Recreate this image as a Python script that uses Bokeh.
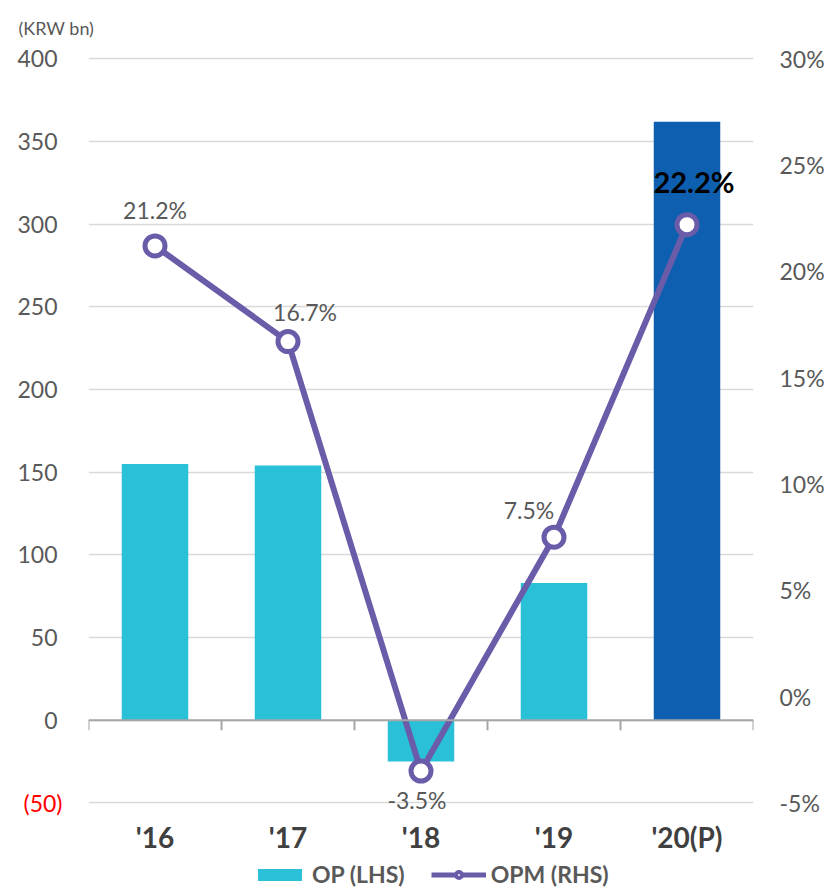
from bokeh.plotting import figure
from bokeh.layouts import column
from bokeh.models import (Range1d, LinearAxis, FixedTicker, Span, Legend, LegendItem,
                          ColumnDataSource, LabelSet, Title)
from bokeh.core.properties import value
from bokeh.embed import file_html
from bokeh.resources import INLINE

# ---- data ----
categories = ["'16", "'17", "'18", "'19", "'20(P)"]
op = [155, 154, -25, 83, 362]            # KRW bn (LHS)
opm = [21.2, 16.7, -3.5, 7.5, 22.2]      # % (RHS)
opm_labels = ["21.2%", "16.7%", "-3.5%", "7.5%", "22.2%"]
left_ticks = [-50, 0, 50, 100, 150, 200, 250, 300, 350, 400]
right_ticks = [-5, 0, 5, 10, 15, 20, 25, 30]

# ---- style ----
FONT = "Lato"
GRAY = "#595959"
CYAN = "#29C0D8"
BLUE = "#0F5FB1"
PURPLE = "#6A5CA8"
label_dx = [0, 17, -4, -25, 7]
label_dy = [36, 30, -29, 27, 43]

n = len(categories)
xc = [i + 0.5 for i in range(n)]

# y ranges: -50..400 spans 744 px; frame padded slightly beyond the tick range
Y0, Y1 = -50, 400
P0, P1 = -5, 30
k = 744 / (Y1 - Y0)
pad_lo, pad_hi = 10, 2
y_lo, y_hi = Y0 - pad_lo, Y1 + pad_hi
r = (P1 - P0) / (Y1 - Y0)
p_lo, p_hi = P0 - pad_lo * r, P1 + pad_hi * r
frame_h = round(k * (y_hi - y_lo))
top_b = round(58 - pad_hi * k)
bot_b = 38

p = figure(width=836, height=top_b + frame_h + bot_b, x_range=Range1d(0, n),
           y_range=Range1d(y_lo, y_hi), output_backend="svg", toolbar_location=None,
           min_border_top=top_b, min_border_left=88, min_border_right=83,
           min_border_bottom=bot_b)
p.outline_line_color = None
p.extra_y_ranges = {"pct": Range1d(p_lo, p_hi)}

# unit label
p.title = Title(text="(KRW bn)", align="left", offset=-70, text_font=FONT,
                text_font_size="18px", text_font_style="normal", text_color=GRAY,
                vertical_align="top", standoff=30)

# grid
p.xgrid.grid_line_color = None
p.ygrid.ticker = FixedTicker(ticks=left_ticks)
p.ygrid.grid_line_color = "#d9d9d9"
p.ygrid.grid_line_width = 1.5


def style_axis(ax, size, color, standoff):
    ax.axis_line_color = None
    ax.major_tick_line_color = None
    ax.minor_tick_line_color = None
    ax.major_tick_out = 0
    ax.major_tick_in = 0
    ax.major_label_standoff = standoff
    ax.major_label_text_font = FONT
    ax.major_label_text_font_size = size
    ax.major_label_text_color = color


# left axis
ya = p.yaxis[0]
ya.ticker = FixedTicker(ticks=left_ticks)
ya.major_label_overrides = {-50: ""}
style_axis(ya, "23px", GRAY, 31)

# red "(50)" on a second left axis
ya2 = LinearAxis(ticker=FixedTicker(ticks=[-50]))
ya2.major_label_overrides = {-50: "(50)"}
style_axis(ya2, "23px", "red", -48)
p.add_layout(ya2, "left")

# right axis
ra = LinearAxis(y_range_name="pct", ticker=FixedTicker(ticks=right_ticks))
ra.major_label_overrides = {t: f"{t}%" for t in right_ticks}
style_axis(ra, "23px", GRAY, 26)
p.add_layout(ra, "right")

# bottom axis (category labels)
xa = p.xaxis[0]
xa.ticker = FixedTicker(ticks=xc)
xa.major_label_overrides = {x: c for x, c in zip(xc, categories)}
style_axis(xa, "28px", "#404040", 0)
xa.major_label_text_font_style = "bold"

# bars
p.vbar(x=xc[:-1], top=op[:-1], bottom=0, width=0.5, fill_color=CYAN, line_color=None)
p.vbar(x=xc[-1:], top=op[-1:], bottom=0, width=0.5, fill_color=BLUE, line_color=None)

# zero line with category ticks
p.add_layout(Span(location=0, dimension="width", line_color="#a6a6a6", line_width=2))
tick_len = 10 / k
p.segment(x0=list(range(n + 1)), x1=list(range(n + 1)), y0=[0] * (n + 1),
          y1=[-tick_len] * (n + 1), line_color="#a6a6a6", line_width=2)

# OPM line
p.line(xc, opm, y_range_name="pct", line_color=PURPLE, line_width=6)
p.scatter(xc, opm, y_range_name="pct", size=20, fill_color="white",
          line_color=PURPLE, line_width=5)

# data labels
src = ColumnDataSource(dict(x=xc[:-1], y=opm[:-1], t=opm_labels[:-1],
                            dx=label_dx[:-1], dy=label_dy[:-1]))
p.add_layout(LabelSet(x="x", y="y", text="t", x_offset="dx", y_offset="dy", source=src,
                      y_range_name="pct", text_align="center", text_baseline="middle",
                      text_font=value(FONT), text_font_size=value("23px"), text_color=GRAY))
src2 = ColumnDataSource(dict(x=xc[-1:], y=opm[-1:], t=opm_labels[-1:],
                             dx=label_dx[-1:], dy=label_dy[-1:]))
p.add_layout(LabelSet(x="x", y="y", text="t", x_offset="dx", y_offset="dy", source=src2,
                      y_range_name="pct", text_align="center", text_baseline="middle",
                      text_font=value(FONT), text_font_size=value("29px"),
                      text_font_style="bold", text_color="black"))

# legend strip (separate figure below the chart; its frame aligns with the chart's)
lg = figure(width=836, height=890 - p.height, x_range=Range1d(0, 1), y_range=Range1d(0, 1),
            output_backend="svg", toolbar_location=None, min_border=0)
lg.axis.visible = False
lg.grid.grid_line_color = None
lg.outline_line_color = None
hidden = ColumnDataSource(dict(x=[-10], y=[-10], top=[-10]))
r_bar = lg.vbar(x="x", top="top", width=0.1, source=hidden, fill_color=CYAN, line_color=None)
r_line = lg.line(x="x", y="y", source=hidden, line_color=PURPLE, line_width=5)
r_pt = lg.scatter(x="x", y="y", source=hidden, size=14, fill_color="white",
                  line_color=PURPLE, line_width=4)
legend = Legend(items=[LegendItem(label="OP (LHS)", renderers=[r_bar]),
                       LegendItem(label="OPM (RHS)", renderers=[r_line, r_pt])],
                orientation="horizontal", location=(164, 2),
                border_line_color=None, background_fill_alpha=0,
                label_text_font=FONT, label_text_font_size="23px",
                label_text_font_style="bold", label_text_color=GRAY,
                glyph_width=55, glyph_height=15, spacing=26, label_standoff=5,
                padding=0, margin=0)
lg.add_layout(legend)

open("out.html", "w").write(file_html(column(p, lg, spacing=0), INLINE))
